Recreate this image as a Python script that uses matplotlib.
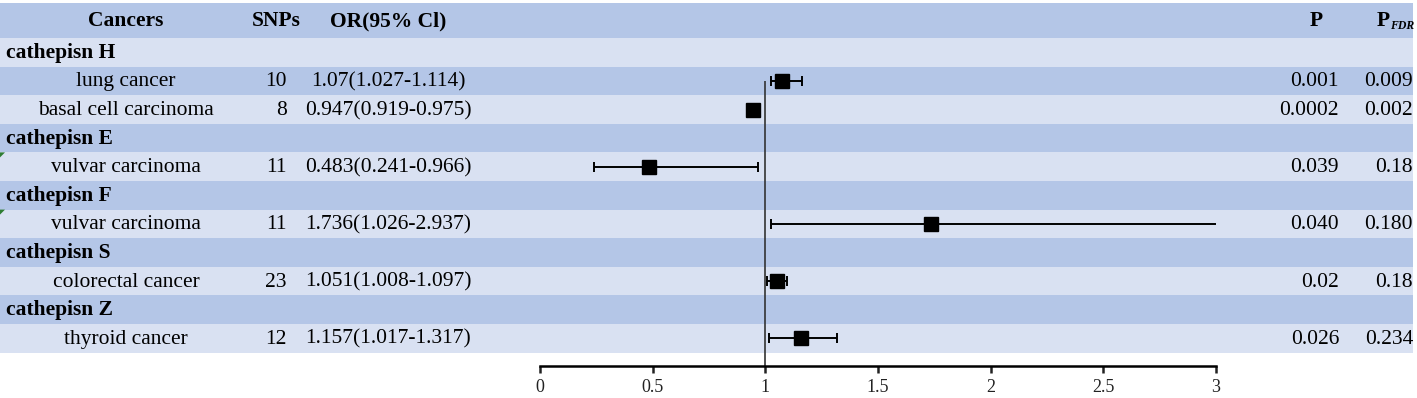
import matplotlib
matplotlib.use("Agg")
import matplotlib.pyplot as plt
import numpy as np

# table content
groups = ["cathepisn H", "cathepisn E", "cathepisn F", "cathepisn S", "cathepisn Z"]
cancers = ["lung cancer", "basal cell carcinoma", "vulvar carcinoma",
           "vulvar carcinoma", "colorectal cancer", "thyroid cancer"]
cancer_group = [0, 0, 1, 2, 3, 4]
snps = [10, 8, 11, 11, 23, 12]
or_text = ["1.07(1.027-1.114)", "0.947(0.919-0.975)", "0.483(0.241-0.966)",
           "1.736(1.026-2.937)", "1.051(1.008-1.097)", "1.157(1.017-1.317)"]
p_text = ["0.001", "0.0002", "0.039", "0.040", "0.02", "0.026"]
pfdr_text = ["0.009", "0.002", "0.18", "0.180", "0.18", "0.234"]

# values as drawn in the forest plot
or_val = [1.075, 0.945, 0.483, 1.736, 1.051, 1.157]
ci_lo = [1.027, 0.919, 0.241, 1.026, 1.008, 1.017]
ci_hi = [1.163, 0.975, 0.966, 3.1, 1.097, 1.317]

xticks = [0, 0.5, 1, 1.5, 2, 2.5, 3]
xticklabels = ["0", "0.5", "1", "1.5", "2", "2.5", "3"]

W, H = 1417, 398
dark = "#B4C6E7"
light = "#D9E1F2"
font = "Liberation Serif"
fs = 15.5

# build the row list: group headers followed by their cancers
rows = []
for g, name in enumerate(groups):
    rows.append(("group", name, None))
    for i, cg in enumerate(cancer_group):
        if cg == g:
            rows.append(("item", cancers[i], i))

top = 3
head_h = 35
row_h = 28.6
def row_center(k):
    return top + head_h + row_h * (k + 0.5)

def cell(x, y, s, ha, **kw):
    # baseline placed a little below the row middle, like the spreadsheet
    bg.text(x, y + 5.5, s, ha=ha, va="baseline", fontsize=kw.pop("fontsize", fs),
            family=font, **kw)

fig = plt.figure(figsize=(W / 100, H / 100), dpi=100)
bg = fig.add_axes([0, 0, 1, 1])
bg.set_xlim(0, W)
bg.set_ylim(H, 0)
bg.axis("off")

# bands
bg.fill_between([0, 1413], top, top + head_h, color=dark, lw=0)
for k in range(len(rows)):
    y0 = top + head_h + row_h * k
    bg.fill_between([0, 1413], y0, y0 + row_h, color=light if k % 2 == 0 else dark, lw=0)

# header
hy = top + head_h / 2
cell(126, hy, "Cancers", "center", fontweight="bold")
cell(276, hy, "SNPs", "center", fontweight="bold")
cell(388, hy, "OR(95% Cl)", "center", fontweight="bold")
cell(1316, hy, "P", "center", fontweight="bold")
cell(1390, hy, "P", "right", fontweight="bold")
cell(1390, hy + 3, "FDR", "left", fontweight="bold", fontstyle="italic", fontsize=8.5)

for k, (kind, label, idx) in enumerate(rows):
    y = row_center(k)
    if kind == "group":
        cell(6, y, label, "left", fontweight="bold")
    else:
        cell(126, y, label, "center")
        cell(287, y, str(snps[idx]), "right")
        cell(388, y, or_text[idx], "center")
        cell(1339, y, p_text[idx], "right")
        cell(1413, y, pfdr_text[idx], "right")
        if label == "vulvar carcinoma":
            y0 = top + head_h + row_h * k
            bg.fill([0, 5, 0], [y0, y0, y0 + 5], color="#2E7D32", lw=0)

# forest plot
x_left, x_right, y_axis = 540, 1216, 366
ax = fig.add_axes([x_left / W, 1 - y_axis / H, (x_right - x_left) / W, (y_axis - top) / H])
ax.set_xlim(0, 3)
ax.set_ylim(y_axis, top)
ax.patch.set_visible(False)
for s in ["top", "left", "right"]:
    ax.spines[s].set_visible(False)
ax.spines["bottom"].set_linewidth(1.8)
ax.set_yticks([])
ax.set_xticks(xticks)
ax.set_xticklabels(xticklabels)
ax.tick_params(axis="x", direction="out", length=5, width=1.8, pad=4,
               colors="#222222", labelsize=13, labelfontfamily=font)

ys = [row_center(k) for k, r in enumerate(rows) if r[0] == "item"]
item_idx = [r[2] for r in rows if r[0] == "item"]
y_first = ys[0]
ax.vlines(1, y_first, y_axis, color="#333333", lw=1.2)

for y, i in zip(ys, item_idx):
    lo = or_val[i] - ci_lo[i]
    hi = ci_hi[i] - or_val[i]
    ax.errorbar(or_val[i], y, xerr=[[lo], [hi]], fmt="s", color="black",
                ms=10, elinewidth=1.4, capsize=3.5, capthick=1.4)

fig.savefig("out.png", dpi=100)
